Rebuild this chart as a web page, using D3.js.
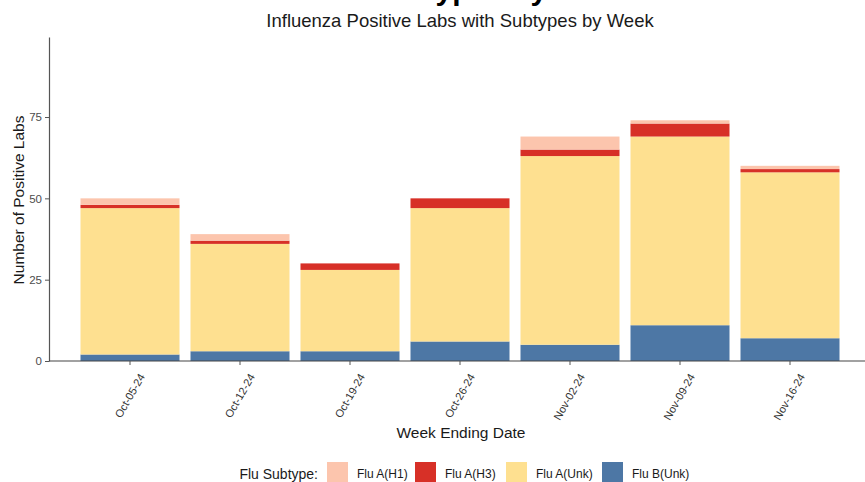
<!DOCTYPE html>
<html>
<head>
<meta charset="utf-8">
<script src="https://cdn.jsdelivr.net/npm/d3@7"></script>
<style>
  body { margin: 0; background: #fff; }
  text { font-family: "Liberation Sans", Arial, sans-serif; }
</style>
</head>
<body>
<div id="chart"></div>
<script>
// data
const weeks = ["Oct-05-24", "Oct-12-24", "Oct-19-24", "Oct-26-24", "Nov-02-24", "Nov-09-24", "Nov-16-24"];
const fluBUnk = [2, 3, 3, 6, 5, 11, 7];
const fluAUnk = [45, 33, 25, 41, 58, 58, 51];
const fluAH3 = [1, 1, 2, 3, 2, 4, 1];
const fluAH1 = [2, 2, 0, 0, 4, 1, 1];
const yTicks = [0, 25, 50, 75];

const subtypes = ["Flu A(H1)", "Flu A(H3)", "Flu A(Unk)", "Flu B(Unk)"];
const colors = ["#fcc5ad", "#d73027", "#fee090", "#4d77a5"];

const width = 865, height = 482;

const svg = d3.select("#chart")
  .append("svg")
    .attr("width", width)
    .attr("height", height);

// stack from bottom: B, A(Unk), A(H3), A(H1)
const rows = weeks.map(function(w, i) {
  return { week: w, "Flu B(Unk)": fluBUnk[i], "Flu A(Unk)": fluAUnk[i], "Flu A(H3)": fluAH3[i], "Flu A(H1)": fluAH1[i] };
});
const stackOrder = ["Flu B(Unk)", "Flu A(Unk)", "Flu A(H3)", "Flu A(H1)"];
const series = d3.stack().keys(stackOrder)(rows);

const color = d3.scaleOrdinal().domain(subtypes).range(colors);

const x = d3.scaleBand()
  .domain(weeks)
  .range([75, 845])
  .paddingInner(0.1)
  .paddingOuter(0.05);

const y = d3.scaleLinear()
  .domain([0, 99.6])
  .range([361, 37]);

// bars
svg.append("g")
  .selectAll("g")
  .data(series)
  .join("g")
    .attr("fill", function(d) { return color(d.key); })
  .selectAll("rect")
  .data(function(d) { return d; })
  .join("rect")
    .attr("x", function(d) { return x(d.data.week); })
    .attr("width", x.bandwidth())
    .attr("y", function(d) { return y(d[1]); })
    .attr("height", function(d) { return y(d[0]) - y(d[1]); });

// y axis
const yAxis = svg.append("g")
  .attr("transform", "translate(49,0)")
  .call(d3.axisLeft(y).tickValues(yTicks).tickSize(4).tickSizeOuter(0));
yAxis.select(".domain").attr("stroke", "#555").attr("stroke-width", 1.2);
yAxis.selectAll(".tick line").attr("stroke", "#555");
yAxis.selectAll(".tick text").attr("fill", "#4d4d4d").style("font-size", "11.5px");

// x axis
const xAxis = svg.append("g")
  .attr("transform", "translate(0,361)")
  .call(d3.axisBottom(x).tickSize(4).tickSizeOuter(0));
xAxis.select(".domain").attr("d", "M49,0H865").attr("stroke", "#444").attr("stroke-width", 1.2);
xAxis.selectAll(".tick line").attr("stroke", "#555");
xAxis.selectAll(".tick text")
  .attr("fill", "#333")
  .style("font-size", "11px")
  .style("text-anchor", "end")
  .attr("dy", "0.35em")
  .attr("transform", "translate(6,10) rotate(-60)");

// main title, mostly above the top edge as in the reference
svg.append("text")
  .attr("x", 432)
  .attr("y", 0)
  .style("text-anchor", "middle")
  .style("font-size", "30px")
  .style("font-weight", "bold")
  .text("Influenza Subtypes by Week");

svg.append("text")
  .attr("x", 460)
  .attr("y", 27)
  .style("text-anchor", "middle")
  .style("font-size", "18.5px")
  .attr("fill", "#1a1a1a")
  .text("Influenza Positive Labs with Subtypes by Week");

svg.append("text")
  .attr("x", 461)
  .attr("y", 438)
  .style("text-anchor", "middle")
  .style("font-size", "15.5px")
  .attr("fill", "#1a1a1a")
  .text("Week Ending Date");

svg.append("text")
  .attr("transform", "rotate(-90)")
  .attr("x", -200)
  .attr("y", 24)
  .style("text-anchor", "middle")
  .style("font-size", "15.5px")
  .attr("fill", "#1a1a1a")
  .text("Number of Positive Labs");

// legend
const legend = svg.append("g");
legend.append("text")
  .attr("x", 318)
  .attr("y", 479)
  .style("text-anchor", "end")
  .style("font-size", "14px")
  .attr("fill", "#1a1a1a")
  .text("Flu Subtype:");

const keyX = [327, 415, 506, 602];
const item = legend.selectAll("g.item")
  .data(subtypes)
  .join("g")
    .attr("class", "item")
    .attr("transform", function(d, i) { return `translate(${keyX[i]},462)`; });
item.append("rect")
  .attr("width", 21)
  .attr("height", 21)
  .attr("fill", function(d) { return color(d); });
item.append("text")
  .attr("x", 30)
  .attr("y", 16)
  .style("font-size", "12px")
  .attr("fill", "#1a1a1a")
  .text(function(d) { return d; });
</script>
</body>
</html>
